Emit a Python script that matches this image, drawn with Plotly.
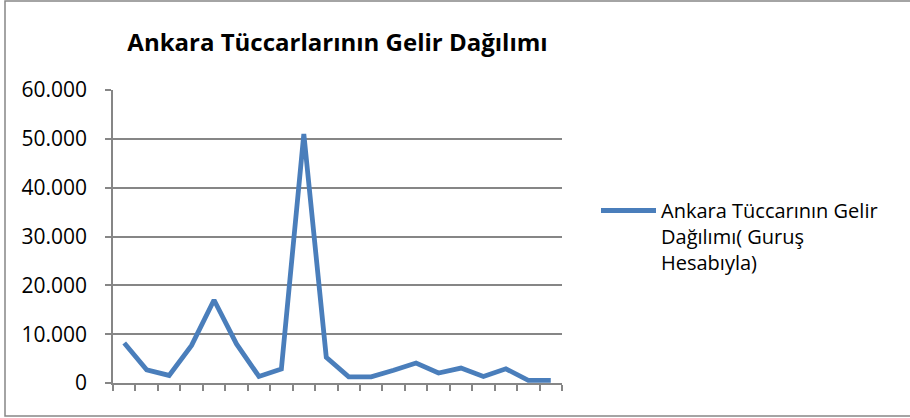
import plotly.graph_objects as go

categories = [str(i) for i in range(1, 21)]
values = [8200, 2700, 1550, 7700, 17000, 8000, 1350, 2850, 51000, 5250,
          1250, 1250, 2600, 4100, 2050, 3050, 1350, 2900, 550, 550]
series_name = "Ankara Tüccarının Gelir<br>Dağılımı( Guruş<br>Hesabıyla)"
title_text = "Ankara Tüccarlarının Gelir Dağılımı"
y_ticks = [0, 10000, 20000, 30000, 40000, 50000, 60000]

FONT = "Open Sans"
GRID = "#868686"

fig = go.Figure()
fig.add_trace(go.Scatter(
    x=categories, y=values, mode="lines", name=series_name,
    line=dict(color="#4A7EBB", width=4.8), showlegend=True,
))

L, R, T, B = 113, 348, 90, 35
W, H = 910, 418
pw, ph = W - L - R, H - T - B

def px_x(px):
    return (px - L) / pw

def px_y(py):
    return (H - B - py) / ph

fig.update_layout(
    width=W, height=H,
    margin=dict(l=L, r=R, t=T, b=B),
    paper_bgcolor="white", plot_bgcolor="white",
    separators=",.",
    font=dict(family=FONT, color="black", size=20),
    title=dict(text="<b>" + title_text + "</b>", x=0.5, xanchor="center",
               xref="paper", y=1 - 43 / H, yanchor="middle",
               font=dict(family=FONT, size=24, color="black")),
    xaxis=dict(
        type="category", showticklabels=False, showgrid=False,
        showline=True, linecolor=GRID, linewidth=1.5,
        ticks="outside", tickson="boundaries", ticklen=6, tickcolor=GRID,
        tickwidth=1.5, range=[-0.5, 19.5], fixedrange=True,
    ),
    yaxis=dict(
        range=[0, 60000], tickvals=y_ticks, tickformat=",d",
        showgrid=True, gridcolor=GRID, gridwidth=1.5,
        showline=True, linecolor=GRID, linewidth=1.5,
        ticks="outside", ticklen=6, tickcolor=GRID, tickwidth=1.5,
        ticklabelstandoff=14, zeroline=False,
        tickfont=dict(family=FONT, size=21, color="black"),
    ),
    legend=dict(
        x=px_x(596), xanchor="left", y=px_y(191), yanchor="top",
        valign="top", itemwidth=55, bgcolor="rgba(0,0,0,0)",
        font=dict(family=FONT, size=20, color="black"),
        tracegroupgap=0,
    ),
    shapes=[dict(
        type="rect", xref="paper", yref="paper",
        x0=px_x(5), x1=px_x(1000), y0=px_y(416), y1=px_y(1),
        line=dict(color="#868686", width=1.5), fillcolor="rgba(0,0,0,0)",
        layer="below",
    )],
)

fig.write_html(
    "out.html",
    config={"displayModeBar": False},
    post_script="document.body.style.margin='0';document.body.style.overflow='hidden';",
)
